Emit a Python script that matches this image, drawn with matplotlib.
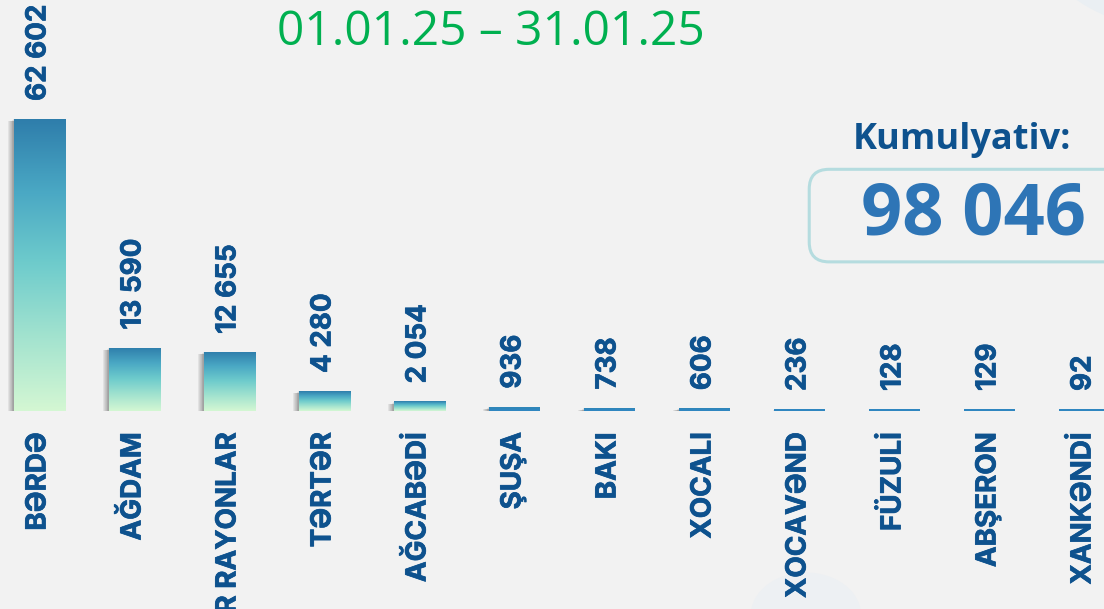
import matplotlib.pyplot as plt
import matplotlib.patheffects as pe
import numpy as np
from matplotlib.colors import LinearSegmentedColormap
from matplotlib.patches import FancyBboxPatch, Circle, Ellipse

# Region names and counts for the period
regions = ["BƏRDƏ", "AĞDAM", "DİGƏR RAYONLAR", "TƏRTƏR", "AĞCABƏDİ", "ŞUŞA",
           "BAKI", "XOCALI", "XOCAVƏND", "FÜZULİ", "ABŞERON", "XANKƏNDİ"]
counts = [62602, 13590, 12655, 4280, 2054, 936, 738, 606, 236, 128, 129, 92]
period = "01.01.25 – 31.01.25"
total = "98 046"

BG = "#f2f2f2"
TXT = "#0e528e"
FONT = ["Open Sans", "DejaVu Sans"]
LABEL_FONT = ["Inter", "DejaVu Sans"]
thick = [pe.withStroke(linewidth=0.5, foreground=TXT)]

grad = LinearSegmentedColormap.from_list(
    "bar", ["#d4f7d3", "#a3e3cf", "#6fcccc", "#4aa8c4", "#2e7dab"])


def fmt(v):
    return f"{v:,}".replace(",", " ")


fig = plt.figure(figsize=(11.04, 6.09), dpi=100, facecolor=BG)

# faint background shapes
fig.patches.append(Circle((1.1, 1.1), 0.16, transform=fig.transFigure,
                          facecolor="#eaeff3", edgecolor="none", zorder=0))
fig.patches.append(Ellipse((0.73, -0.01), 0.1, 0.14, transform=fig.transFigure,
                           facecolor="#edf0f3", edgecolor="none", zorder=0))

ax = fig.add_axes([0, 0.3251, 1, 0.6749], zorder=2)
ax.set_facecolor("none")
x = np.arange(len(counts))
ax.axis("off")

w = 0.537
px_x = 1 / 95
px_y = 88100 / 411

# drop shadow to the left and under each bar
for xi, v in zip(x, counts):
    for k in range(1, 8):
        ax.bar(xi - k * px_x * 0.8, v + px_y * 0.5, width=w,
               bottom=-px_y * min(k, 3) * 0.9,
               color="#5e5e5e", alpha=0.1, linewidth=0, zorder=1)

bars = ax.bar(x, counts, width=w, color="#2f86b9", zorder=2,
              linewidth=0)
g = np.linspace(0, 1, 256).reshape(-1, 1)
for b, v in zip(bars, counts):
    x0 = b.get_x()
    if v < 1000:
        ax.bar(x0 + w / 2, px_y * 2.2, width=w, color="#2f86c0",
               linewidth=0, zorder=3)
        continue
    im = ax.imshow(g, cmap=grad, origin="lower", aspect="auto",
                   extent=(x0, x0 + w, 0, v), zorder=3)
    im.set_clip_path(b)

ax.set_xlim(-0.4158, 11.205)
ax.set_ylim(0, 88100)

for xi, v in zip(x, counts):
    top = max(v, px_y * 2)
    ax.annotate(fmt(v), (xi, top), xytext=(-1, 18), textcoords="offset pixels",
                rotation=90, ha="center", va="bottom", fontsize=20,
                fontweight="bold", color=TXT, family=LABEL_FONT,
                path_effects=thick)
    ax.annotate(regions[xi], (xi, 0), xytext=(-1, -21),
                textcoords="offset pixels", rotation=90, ha="center", va="top",
                fontsize=20, fontweight="bold", color=TXT, family=LABEL_FONT,
                annotation_clip=False, path_effects=thick)

fig.text(0.445, 0.947, period, ha="center", va="center", fontsize=34.5,
         color="#00b050", family=FONT)
fig.text(0.871, 0.77, "Kumulyativ:", ha="center", va="center", fontsize=26,
         fontweight="bold", color=TXT, family=FONT)

box = FancyBboxPatch((0.733, 0.57), 0.3, 0.152, transform=fig.transFigure,
                     boxstyle="round,pad=0,rounding_size=0.018",
                     facecolor="none", edgecolor="#b5dcdf", linewidth=2.2,
                     mutation_aspect=1.8, zorder=5)
fig.patches.append(box)
fig.text(0.882, 0.646, total, ha="center", va="center", fontsize=52,
         fontweight="bold", color="#2e75b6", family=FONT)

fig.savefig("out.png", dpi=100, facecolor=BG)
